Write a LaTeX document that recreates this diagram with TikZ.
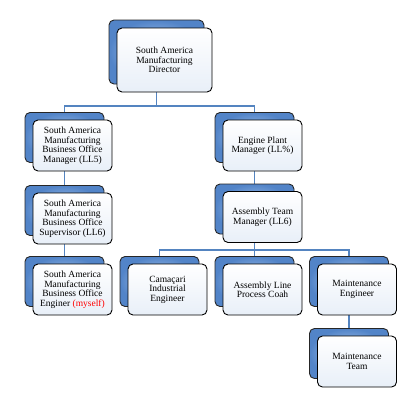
\documentclass[tikz,border=0pt]{standalone}
\usepackage{fontspec}
\setmainfont{Liberation Serif}
\usepackage{xcolor}
\usepackage{tikz}
\usetikzlibrary{positioning}
\usetikzlibrary{backgrounds}
\definecolor{lineblue}{RGB}{84,132,192}
\definecolor{boxblue}{RGB}{82,132,200}
\definecolor{boxlight}{RGB}{186,212,244}
\definecolor{frontfill}{RGB}{232,239,248}
\tikzstyle{backbox}=[rectangle,rounded corners=5pt,draw=black!85,line width=0.9pt,inner color=boxlight,outer color=boxblue,minimum width=79pt,minimum height=50pt,inner sep=0pt]
\tikzstyle{frontbox}=[rectangle,rounded corners=5pt,draw=black,line width=0.9pt,top color=white,bottom color=frontfill,minimum width=79pt,minimum height=51pt,inner sep=1pt,align=center,font=\fontsize{9.5}{9.5}\selectfont]
\tikzstyle{bigbox}=[minimum width=95pt,minimum height=64pt]
\tikzstyle{orgedge}=[draw,lineblue,line width=1.2pt]

\begin{document}
\begin{tikzpicture}[x=1pt,y=-1pt]

  \useasboundingbox (0,0) rectangle (418,413);
  \def\dx{8}
  \def\dy{8}

  % director
  \node[backbox,bigbox] (dir-bk) at (164.5-\dx,60-\dy) {};
  \node[frontbox,bigbox] (dir) at (164.5,60) {South America\\Manufacturing\\Director};

  \foreach \x/\y/\name/\label in {72.5/145.5/bom/{South America\\Manufacturing\\Business Office\\Manager (LL5)},
      72.5/218.5/bos/{South America\\Manufacturing\\Business Office\\Supervisor (LL6)},
      72.5/289.5/boe/{South America\\Manufacturing\\Business Office\\Enginer \textcolor{red}{(myself)}},
      262.5/145.5/epm/{Engine Plant\\Manager (LL\%)},
      262.5/217/atm/{Assembly Team\\Manager (LL6)}}
  {
    \node[backbox] (\name-bk) at (\x-\dx,\y-\dy) {};
    \node[frontbox] (\name) at (\x,\y) {\label};
  }

  \foreach \x/\y/\name/\label in {167.5/289.5/cie/{Camaçari\\Industrial\\Engineer},
      262.5/289.5/alp/{Assembly Line\\Process Coah},
      357/289.5/men/{Maintenance\\Engineer},
      357/361.5/mtm/{Maintenance\\Team}}
  {
    \node[backbox] (\name-bk) at (\x-\dx,\y-\dy) {};
    \node[frontbox] (\name) at (\x,\y) {\label};
  }

  \begin{scope}[on background layer]
  \foreach \source/\dest/\bus in {dir/bom/106, dir/epm/106, bom/bos/180, bos/boe/252, epm/atm/180,
      atm/cie/250, atm/alp/250, atm/men/250, men/mtm/322}
         \path[orgedge] (\source-bk) -- (\source-bk |- 0,\bus) -| (\dest-bk);
  \end{scope}

\end{tikzpicture}
\end{document}
